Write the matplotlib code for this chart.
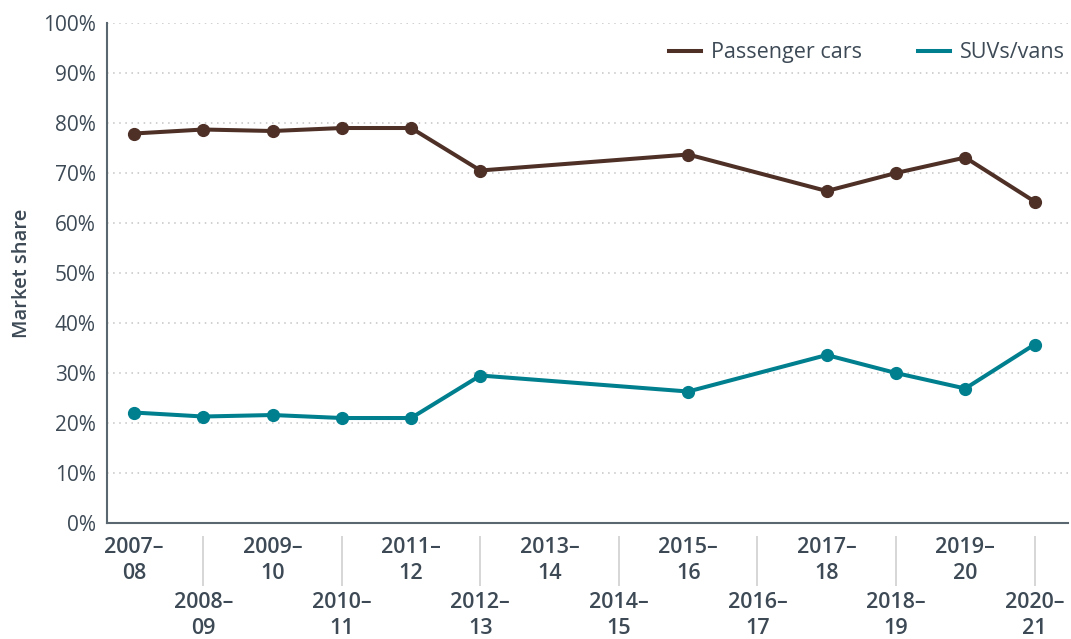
import matplotlib
matplotlib.use("Agg")
import matplotlib.pyplot as plt
from matplotlib.lines import Line2D
from matplotlib.ticker import FuncFormatter

# data
years = ["2007–\n08", "2008–\n09", "2009–\n10", "2010–\n11", "2011–\n12", "2012–\n13",
         "2013–\n14", "2014–\n15", "2015–\n16", "2016–\n17", "2017–\n18", "2018–\n19",
         "2019–\n20", "2020–\n21"]
idx = [0, 1, 2, 3, 4, 5, 8, 10, 11, 12, 13]
cars = [77.9, 78.7, 78.4, 79.0, 79.0, 70.5, 73.7, 66.4, 70.0, 73.1, 64.3]
suvs = [22.1, 21.3, 21.6, 21.0, 21.0, 29.5, 26.3, 33.6, 30.0, 26.9, 35.7]

txt = "#3d4a56"
c_cars = "#4e3027"
c_suvs = "#007f8f"
plt.rcParams["font.family"] = ["Open Sans", "DejaVu Sans"]

fig = plt.figure(figsize=(10.71, 6.39), dpi=100)
ax = fig.add_axes([0.0999, 0.1815, 0.8971, 0.7825])

ax.plot(idx, cars, color=c_cars, lw=2.9, marker="o", ms=8.5, zorder=3)
ax.plot(idx, suvs, color=c_suvs, lw=2.9, marker="o", ms=8.5, zorder=3)

ax.set_ylim(0, 100)
ax.set_xlim(-0.39, 13.48)
ax.set_yticks(range(0, 101, 10))
ax.yaxis.set_major_formatter(FuncFormatter(lambda v, p: f"{v:.0f}%"))
ax.grid(axis="y", ls=(0, (1, 3)), color="#c4c4c4", lw=1.1)
ax.set_axisbelow(True)

for s in ["top", "right"]:
    ax.spines[s].set_visible(False)
for s in ["left", "bottom"]:
    ax.spines[s].set_color("#5a6670")
    ax.spines[s].set_linewidth(1.5)

ax.tick_params(axis="y", length=0, pad=8, labelsize=15, labelcolor=txt)
ax.set_xticks(range(len(years)))
ax.set_xticklabels(years, fontsize=15.5, color=txt, fontweight="semibold", linespacing=1.3)
ax.tick_params(axis="x", length=0)
for i, t in enumerate(ax.xaxis.get_major_ticks()):
    t.set_pad(10 if i % 2 == 0 else 50)

# separators between the label rows
ax.vlines(range(1, len(years), 2), -0.026, -0.126, transform=ax.get_xaxis_transform(),
          color="#d0d0d0", lw=1.2, clip_on=False)

ax.set_ylabel("Market share", fontsize=14.5, color=txt, fontweight="semibold", labelpad=8)

handles = [Line2D([], [], color=c_cars, lw=2.9), Line2D([], [], color=c_suvs, lw=2.9)]
ax.legend(handles, ["Passenger cars", "SUVs/vans"], loc="upper right", ncol=2, frameon=False,
          fontsize=15.5, labelcolor=txt, handlelength=1.5, handletextpad=0.45, columnspacing=2.6,
          bbox_to_anchor=(1.017, 1.0))

fig.savefig("out.png", dpi=100)
